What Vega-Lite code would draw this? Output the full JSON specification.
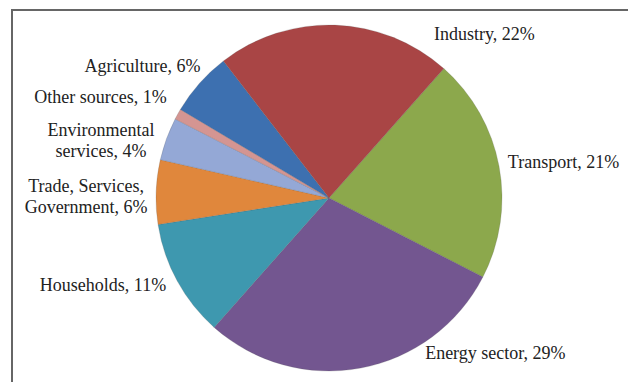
{
  "$schema": "https://vega.github.io/schema/vega-lite/v6.json",
  "autosize": "none",
  "width": 634,
  "height": 376,
  "padding": {"left": 12, "top": 10, "right": 0, "bottom": 0},
  "background": "white",
  "config": {
    "view": {"stroke": null}
  },
  "data": {
    "values": [
      {"category": "Transport", "value": 21, "rank": 1, "label": "Transport, 21%"},
      {"category": "Energy sector", "value": 29, "rank": 2, "label": "Energy sector, 29%"},
      {"category": "Households", "value": 11, "rank": 3, "label": "Households, 11%"},
      {"category": "Trade, Services, Government", "value": 6, "rank": 4, "label": "Trade, Services,\nGovernment, 6%"},
      {"category": "Environmental services", "value": 4, "rank": 5, "label": "Environmental\nservices, 4%"},
      {"category": "Other sources", "value": 1, "rank": 6, "label": "Other sources, 1%"},
      {"category": "Agriculture", "value": 6, "rank": 7, "label": "Agriculture, 6%"},
      {"category": "Industry", "value": 22, "rank": 8, "label": "Industry, 22%"}
    ]
  },
  "layer": [
    {
      "data": {"values": [{}]},
      "mark": {"type": "rect", "fill": null, "fillOpacity": 0, "stroke": "#666666", "strokeWidth": 2},
      "encoding": {}
    },
    {
      "mark": {"type": "arc", "outerRadius": 173, "stroke": "#555555", "strokeWidth": 0.4, "strokeOpacity": 0.5},
      "encoding": {
        "theta": {"field": "value", "type": "quantitative", "stack": true, "scale": {"range": [0.726, 7.009]}},
        "order": {"field": "rank", "type": "quantitative"},
        "color": {
          "field": "category", "type": "nominal", "legend": null,
          "scale": {
            "domain": ["Transport", "Energy sector", "Households", "Trade, Services, Government", "Environmental services", "Other sources", "Agriculture", "Industry"],
            "range": ["#8CA84C", "#735690", "#3E98AF", "#E0873C", "#94A8D6", "#D49592", "#3D70B0", "#A94545"]
          }
        }
      }
    },
    {
      "mark": {"type": "text", "font": "Liberation Serif", "fontSize": 18, "fill": "#222222", "baseline": "middle", "lineBreak": "\n", "lineHeight": 21, "radius": 200, "align": "left", "dx": 98, "dy": 37},
      "encoding": {
        "theta": {"field": "value", "type": "quantitative", "stack": true},
        "order": {"field": "rank", "type": "quantitative"},
        "detail": {"field": "category"},
        "text": {"condition": {"test": "datum.category === 'Industry'", "field": "label"}, "value": ""}
      }
    },
    {
      "mark": {"type": "text", "font": "Liberation Serif", "fontSize": 18, "fill": "#222222", "baseline": "middle", "lineBreak": "\n", "lineHeight": 21, "radius": 185, "align": "left", "dx": -3, "dy": -1},
      "encoding": {
        "theta": {"field": "value", "type": "quantitative", "stack": true},
        "order": {"field": "rank", "type": "quantitative"},
        "detail": {"field": "category"},
        "text": {"condition": {"test": "datum.category === 'Transport'", "field": "label"}, "value": ""}
      }
    },
    {
      "mark": {"type": "text", "font": "Liberation Serif", "fontSize": 18, "fill": "#222222", "baseline": "middle", "lineBreak": "\n", "lineHeight": 21, "radius": 180, "align": "left", "dx": 63, "dy": -21},
      "encoding": {
        "theta": {"field": "value", "type": "quantitative", "stack": true},
        "order": {"field": "rank", "type": "quantitative"},
        "detail": {"field": "category"},
        "text": {"condition": {"test": "datum.category === 'Energy sector'", "field": "label"}, "value": ""}
      }
    },
    {
      "mark": {"type": "text", "font": "Liberation Serif", "fontSize": 18, "fill": "#222222", "baseline": "middle", "lineBreak": "\n", "lineHeight": 21, "radius": 190, "align": "right", "dx": 4, "dy": -3},
      "encoding": {
        "theta": {"field": "value", "type": "quantitative", "stack": true},
        "order": {"field": "rank", "type": "quantitative"},
        "detail": {"field": "category"},
        "text": {"condition": {"test": "datum.category === 'Households'", "field": "label"}, "value": ""}
      }
    },
    {
      "mark": {"type": "text", "font": "Liberation Serif", "fontSize": 18, "fill": "#222222", "baseline": "middle", "lineBreak": "\n", "lineHeight": 21, "radius": 200, "align": "center", "dx": -43, "dy": -4},
      "encoding": {
        "theta": {"field": "value", "type": "quantitative", "stack": true},
        "order": {"field": "rank", "type": "quantitative"},
        "detail": {"field": "category"},
        "text": {"condition": {"test": "datum.category === 'Trade, Services, Government'", "field": "label"}, "value": ""}
      }
    },
    {
      "mark": {"type": "text", "font": "Liberation Serif", "fontSize": 18, "fill": "#222222", "baseline": "middle", "lineBreak": "\n", "lineHeight": 21, "radius": 200, "align": "center", "dx": -40, "dy": 1},
      "encoding": {
        "theta": {"field": "value", "type": "quantitative", "stack": true},
        "order": {"field": "rank", "type": "quantitative"},
        "detail": {"field": "category"},
        "text": {"condition": {"test": "datum.category === 'Environmental services'", "field": "label"}, "value": ""}
      }
    },
    {
      "mark": {"type": "text", "font": "Liberation Serif", "fontSize": 18, "fill": "#222222", "baseline": "middle", "lineBreak": "\n", "lineHeight": 21, "radius": 190, "align": "right", "dx": 4, "dy": -8},
      "encoding": {
        "theta": {"field": "value", "type": "quantitative", "stack": true},
        "order": {"field": "rank", "type": "quantitative"},
        "detail": {"field": "category"},
        "text": {"condition": {"test": "datum.category === 'Other sources'", "field": "label"}, "value": ""}
      }
    },
    {
      "mark": {"type": "text", "font": "Liberation Serif", "fontSize": 18, "fill": "#222222", "baseline": "middle", "lineBreak": "\n", "lineHeight": 21, "radius": 200, "align": "right", "dx": 21, "dy": 2},
      "encoding": {
        "theta": {"field": "value", "type": "quantitative", "stack": true},
        "order": {"field": "rank", "type": "quantitative"},
        "detail": {"field": "category"},
        "text": {"condition": {"test": "datum.category === 'Agriculture'", "field": "label"}, "value": ""}
      }
    }
  ]
}
